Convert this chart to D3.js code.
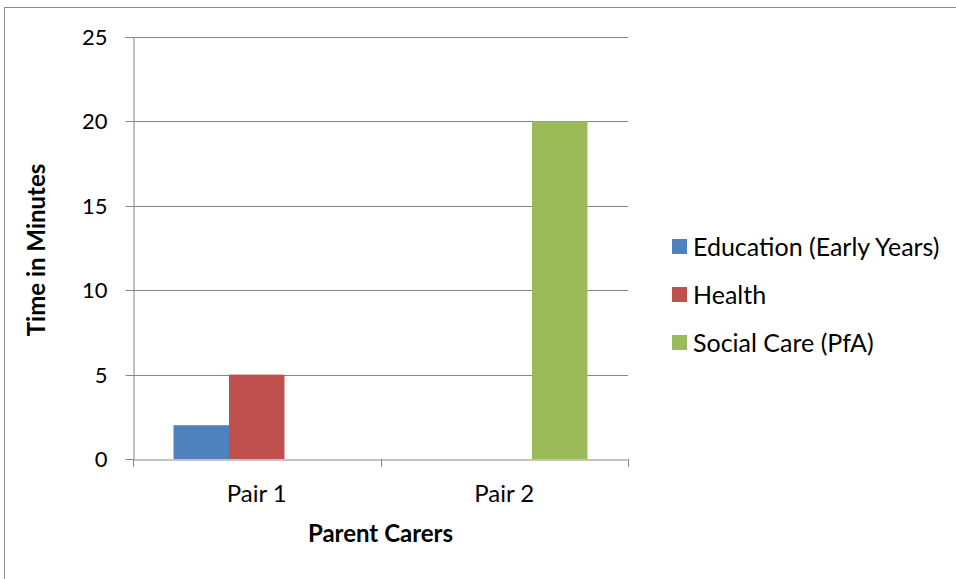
<!DOCTYPE html>
<html>
<head>
<meta charset="utf-8">
<script src="https://cdn.jsdelivr.net/npm/d3@7"></script>
<style>
html,body{margin:0;padding:0;background:#fff;}
svg{display:block;}
text{font-family:Lato,"Open Sans",sans-serif;fill:#000;}
</style>
</head>
<body>
<svg id="chart" width="956" height="579"></svg>
<script>
const categories = ["Pair 1", "Pair 2"];
const seriesNames = ["Education (Early Years)", "Health", "Social Care (PfA)"];
const educationValues = [2, 0];
const healthValues = [5, 0];
const socialCareValues = [0, 20];
const yTicks = [0, 5, 10, 15, 20, 25];
const colors = ["#4F81BD", "#C0504D", "#9BBB59"];

const seriesValues = [educationValues, healthValues, socialCareValues];
const data = categories.map((c, i) => ({cat: c, vals: seriesNames.map((s, j) => ({s, v: seriesValues[j][i]}))}));

const svg = d3.select("#chart");
const pLeft = 133, pRight = 628, pTop = 37, pBottom = 459;

// outer frame
svg.append("rect").attr("x", 4.5).attr("y", 7.5).attr("width", 1000).attr("height", 1000)
  .attr("fill", "none").attr("stroke", "#8c8c8c").attr("stroke-width", 1);

const y = d3.scaleLinear().domain([0, 25]).range([pBottom, pTop]);
const x0 = d3.scaleBand().domain(categories).range([pLeft, pRight]).padding(0);
const x1 = d3.scaleBand().domain(seriesNames).range([0, x0.bandwidth()]).paddingInner(0).paddingOuter(0.73);
const color = d3.scaleOrdinal().domain(seriesNames).range(colors);

// gridlines
svg.append("g").selectAll("line").data(yTicks.filter(t => t > 0)).join("line")
  .attr("x1", pLeft).attr("x2", pRight)
  .attr("y1", d => Math.round(y(d)) + 0.5).attr("y2", d => Math.round(y(d)) + 0.5)
  .attr("stroke", "#878787").attr("stroke-width", 1);

// bars
svg.append("g").selectAll("g").data(data).join("g")
  .attr("transform", d => `translate(${x0(d.cat)},0)`)
  .selectAll("rect").data(d => d.vals.filter(e => e.v > 0)).join("rect")
  .attr("x", d => x1(d.s)).attr("width", x1.bandwidth())
  .attr("y", d => y(d.v)).attr("height", d => y(0) - y(d.v))
  .attr("fill", d => color(d.s));

// y axis
const yAxis = svg.append("g").attr("transform", `translate(${pLeft + 0.5},0)`)
  .call(d3.axisLeft(y).tickValues(yTicks).tickSize(8).tickPadding(18).tickFormat(d3.format("d")));
yAxis.select(".domain").attr("stroke", "#878787");
yAxis.selectAll(".tick line").attr("stroke", "#878787");
yAxis.selectAll(".tick text").style("font-size", "22px").attr("fill", "#000");
yAxis.selectAll(".tick").attr("transform", d => `translate(0,${Math.round(y(d)) + 0.5})`);

// x axis
const xAxis = svg.append("g").attr("transform", `translate(0,${pBottom + 0.5})`)
  .call(d3.axisBottom(x0).tickSize(0).tickPadding(25));
xAxis.select(".domain").attr("stroke", "#878787");
xAxis.selectAll(".tick text").style("font-size", "24px").attr("fill", "#000");
const xBounds = [pLeft, ...categories.map(c => x0(c) + x0.bandwidth())];
svg.append("g").selectAll("line").data(xBounds).join("line")
  .attr("x1", d => Math.round(d) + 0.5).attr("x2", d => Math.round(d) + 0.5)
  .attr("y1", pBottom).attr("y2", pBottom + 8)
  .attr("stroke", "#878787");

// axis titles
svg.append("text").attr("x", (pLeft + pRight) / 2).attr("y", 542).attr("text-anchor", "middle")
  .style("font-size", "24px").style("font-weight", "bold").text("Parent Carers");
svg.append("text").attr("transform", `translate(45,250) rotate(-90)`)
  .attr("text-anchor", "middle").style("font-size", "24px").style("font-weight", "bold").text("Time in Minutes");

// legend
const legend = svg.append("g").selectAll("g").data(seriesNames).join("g")
  .attr("transform", (d, i) => `translate(672,${247 + i * 48})`);
legend.append("rect").attr("x", 0).attr("y", -8).attr("width", 15).attr("height", 15).attr("fill", d => color(d));
legend.append("text").attr("x", 21).attr("y", 0).attr("dy", "0.35em").style("font-size", "25px").text(d => d);
</script>
</body>
</html>
